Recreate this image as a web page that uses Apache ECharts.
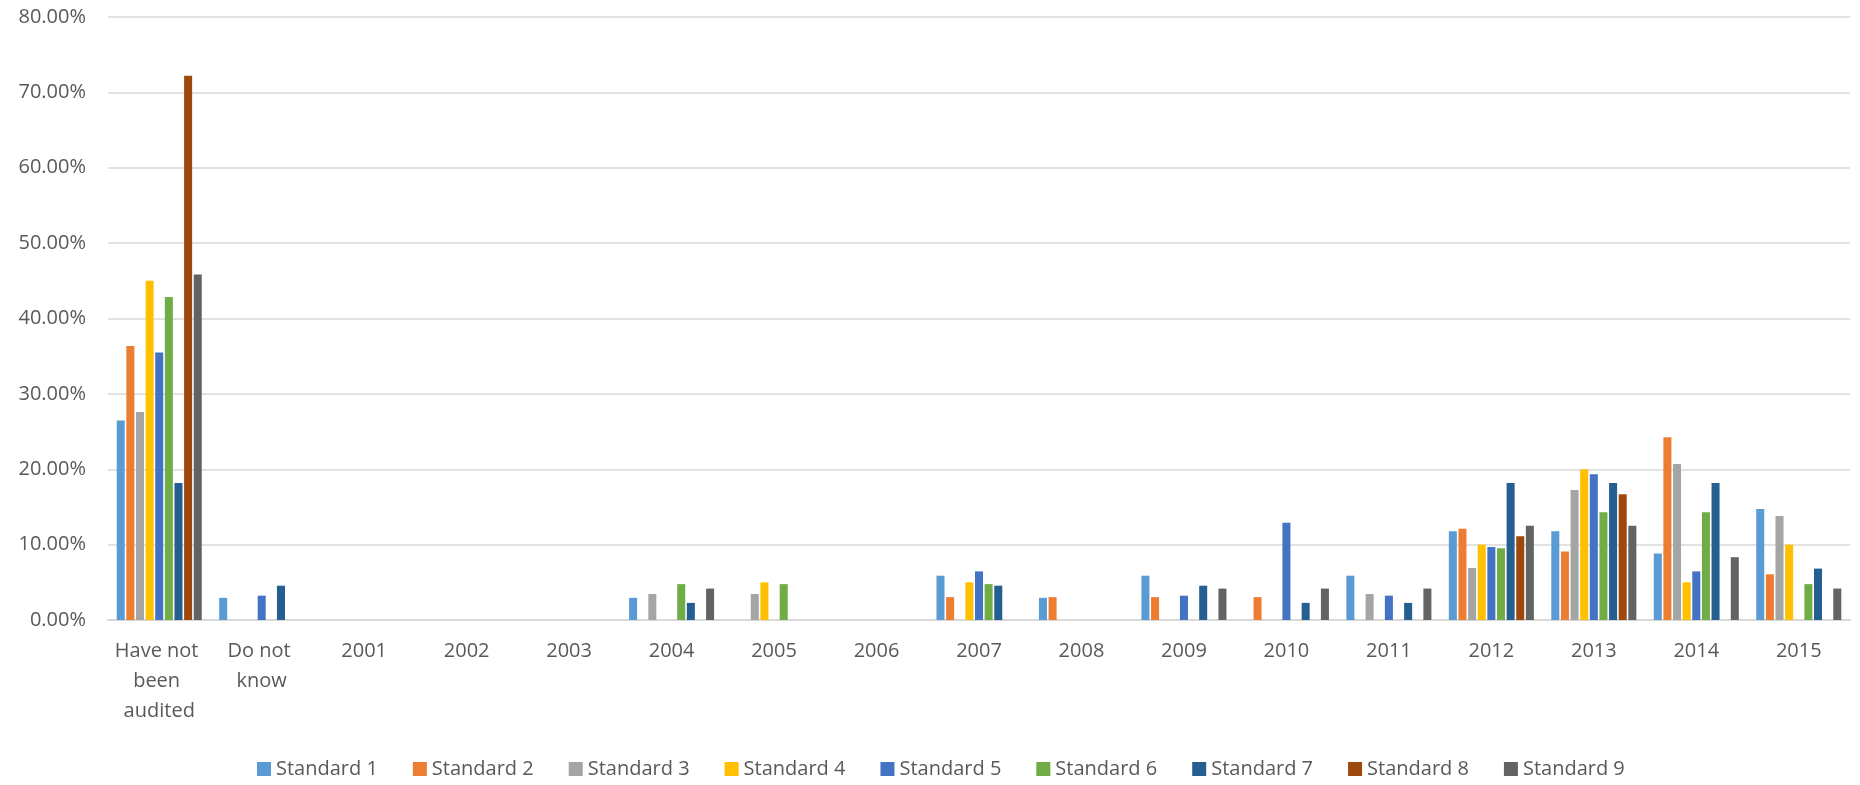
<!DOCTYPE html>
<html>
<head>
    <meta charset="utf-8">
    <title>Audit year by standard</title>
    <script src="https://cdn.jsdelivr.net/npm/echarts@6/dist/echarts.min.js"></script>
    <style>
        html, body { margin: 0; padding: 0; background: #fff; }
        #main { width: 1860px; height: 785px; }
    </style>
</head>
<body>
<div id="main"></div>
<script type="text/javascript">

// categories on the x axis
var categories = ['Have not been audited', 'Do not know', '2001', '2002', '2003', '2004', '2005', '2006',
                  '2007', '2008', '2009', '2010', '2011', '2012', '2013', '2014', '2015'];

// share of each standard (%), null = no bar
var standard1 = [26.47, 2.94, null, null, null, 2.94, null, null, 5.88, 2.94, 5.88, null, 5.88, 11.76, 11.76, 8.82, 14.71];
var standard2 = [36.36, null, null, null, null, null, null, null, 3.03, 3.03, 3.03, 3.03, null, 12.12, 9.09, 24.24, 6.06];
var standard3 = [27.59, null, null, null, null, 3.45, 3.45, null, null, null, null, null, 3.45, 6.90, 17.24, 20.69, 13.79];
var standard4 = [45.00, null, null, null, null, null, 5.00, null, 5.00, null, null, null, null, 10.00, 20.00, 5.00, 10.00];
var standard5 = [35.48, 3.23, null, null, null, null, null, null, 6.45, null, 3.23, 12.90, 3.23, 9.68, 19.35, 6.45, null];
var standard6 = [42.86, null, null, null, null, 4.76, 4.76, null, 4.76, null, null, null, null, 9.52, 14.29, 14.29, 4.76];
var standard7 = [18.18, 4.55, null, null, null, 2.27, null, null, 4.55, null, 4.55, 2.27, 2.27, 18.18, 18.18, 18.18, 6.82];
var standard8 = [72.22, null, null, null, null, null, null, null, null, null, null, null, null, 11.11, 16.67, null, null];
var standard9 = [45.83, null, null, null, null, 4.17, null, null, null, null, 4.17, 4.17, 4.17, 12.50, 12.50, 8.33, 4.17];

var seriesNames  = ['Standard 1', 'Standard 2', 'Standard 3', 'Standard 4', 'Standard 5',
                    'Standard 6', 'Standard 7', 'Standard 8', 'Standard 9'];
var seriesData   = [standard1, standard2, standard3, standard4, standard5,
                    standard6, standard7, standard8, standard9];
var seriesColors = ['#5B9BD5', '#ED7D31', '#A5A5A5', '#FFC000', '#4472C4',
                    '#70AD47', '#255E91', '#9E480E', '#636363'];

var myChart = echarts.init(document.getElementById('main'));

var series = [];
for (var i = 0; i < seriesNames.length; i++) {
    series.push({
        name: seriesNames[i],
        type: 'bar',
        data: seriesData[i],
        barGap: '20%',
        barCategoryGap: '17%',
        itemStyle: { color: seriesColors[i] }
    });
}

var option = {
    animation: false,
    color: seriesColors,
    textStyle: { fontFamily: 'Open Sans' },
    grid: {
        left: 108,
        right: 10,
        top: 17,
        bottom: 165
    },
    legend: {
        left: 252,
        top: 754,
        itemWidth: 14,
        itemHeight: 14,
        itemGap: 35,
        icon: 'rect',
        textStyle: { fontSize: 20, color: '#595959', fontFamily: 'Open Sans' },
        data: seriesNames
    },
    xAxis: {
        type: 'category',
        data: categories,
        axisTick: { show: false },
        axisLine: { lineStyle: { color: '#d9d9d9', width: 2 } },
        axisLabel: {
            interval: 0,
            margin: 16,
            fontSize: 20,
            lineHeight: 30,
            color: '#595959',
            width: 92,
            overflow: 'break'
        }
    },
    yAxis: {
        type: 'value',
        min: 0,
        max: 80,
        interval: 10,
        axisLine: { show: false },
        axisTick: { show: false },
        splitLine: { lineStyle: { color: '#d9d9d9', width: 1.5 } },
        axisLabel: {
            margin: 22,
            fontSize: 20,
            color: '#595959',
            formatter: function (v) { return v.toFixed(2) + '%'; }
        }
    },
    series: series
};

myChart.setOption(option);

</script>
</body>
</html>
